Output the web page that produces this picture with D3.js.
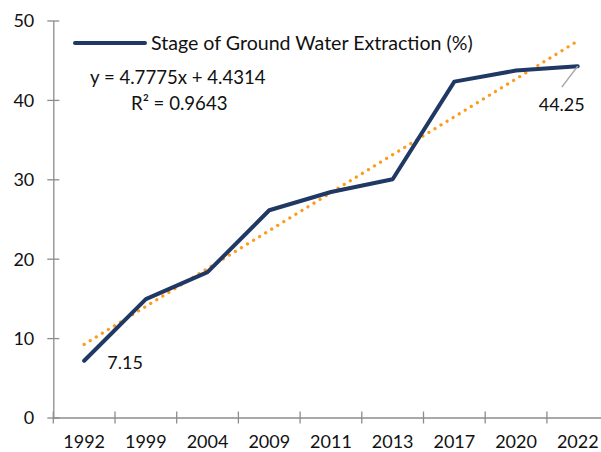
<!DOCTYPE html>
<html><head><meta charset="utf-8">
<script src="https://cdn.jsdelivr.net/npm/d3@7"></script>
<style>body{margin:0;background:#fff}svg{display:block}text{font-family:Lato,"Open Sans",sans-serif;fill:#111}</style>
</head><body>
<svg id="c" width="601" height="452"></svg>
<script>
const categories = ["1992","1999","2004","2009","2011","2013","2017","2020","2022"];
const values = [7.15, 14.9, 18.3, 26.1, 28.4, 30.0, 42.3, 43.7, 44.25];
const yTicks = [0,10,20,30,40,50];
const seriesName = "Stage of Ground Water Extraction (%)";
const trendSlope = 4.7775, trendIntercept = 4.4314;
const trendLabel = "y = 4.7775x + 4.4314";
const r2Label = "R² = 0.9643";

const svg = d3.select("#c");
const x = d3.scaleBand().domain(categories).range([53.3, 608.6]);
const y = d3.scaleLinear().domain([0,50]).range([417.5, 20.5]);
const axisColor = "#8c8c8c";
const FF = "Lato,'Open Sans',sans-serif";

// y axis
const ya = svg.append("g").attr("transform","translate(53.3,0)")
  .call(d3.axisLeft(y).tickValues(yTicks).tickSize(6).tickSizeOuter(0).tickPadding(13));
ya.select(".domain").attr("stroke",axisColor).attr("stroke-width",1.3);
ya.selectAll(".tick line").attr("stroke",axisColor).attr("stroke-width",1.3).attr("x2",6).attr("x1",-6);
ya.selectAll(".tick text").attr("font-size",18).attr("font-family",FF).attr("fill","#111").attr("dy","0.36em");

// x axis
const xa = svg.append("g").attr("transform",`translate(0,${y(0)})`)
  .call(d3.axisBottom(x).tickSize(0).tickPadding(18));
xa.select(".domain").attr("stroke",axisColor).attr("stroke-width",1.6);
xa.selectAll(".tick text").attr("font-size",18).attr("font-family",FF).attr("fill","#111");
// separator ticks at band boundaries
const bounds = categories.map(c => x(c));
svg.append("g").selectAll("line").data(bounds).join("line")
  .attr("x1",d=>d).attr("x2",d=>d).attr("y1",y(0)-6).attr("y2",y(0)+6)
  .attr("stroke",axisColor).attr("stroke-width",1.3);

const cx = c => x(c) + x.bandwidth()/2;

// trendline
const xs = [1, categories.length];
svg.append("line")
  .attr("x1", cx(categories[0])).attr("y1", y(trendSlope*xs[0]+trendIntercept))
  .attr("x2", cx(categories[categories.length-1])).attr("y2", y(trendSlope*xs[1]+trendIntercept))
  .attr("stroke","#FF9A1A").attr("stroke-width",3.2).attr("stroke-linecap","round")
  .attr("stroke-dasharray","0.1 7");

// series line
const line = d3.line().x((d,i)=>cx(categories[i])).y(d=>y(d));
svg.append("path").datum(values).attr("d",line)
  .attr("fill","none").attr("stroke","#1F3864").attr("stroke-width",4)
  .attr("stroke-linejoin","round").attr("stroke-linecap","round");

// data labels
svg.append("text").attr("x",cx(categories[0])+41).attr("y",y(values[0])+8)
  .attr("text-anchor","middle").attr("font-size",18).text(values[0].toFixed(2));
const last = categories.length-1;
svg.append("line").attr("x1",cx(categories[last])).attr("y1",y(values[last]))
  .attr("x2",cx(categories[last])-16).attr("y2",y(values[last])+21)
  .attr("stroke","#a6a6a6").attr("stroke-width",1.5);
svg.append("text").attr("x",cx(categories[last])-16).attr("y",y(values[last])+45)
  .attr("text-anchor","middle").attr("font-size",18).text(values[last].toFixed(2));

// legend
svg.append("line").attr("x1",75).attr("x2",145).attr("y1",43).attr("y2",43)
  .attr("stroke","#1F3864").attr("stroke-width",4).attr("stroke-linecap","round");
svg.append("text").attr("x",151).attr("y",50).attr("font-size",19.6).text(seriesName);

// trend equation
svg.append("text").attr("x",90).attr("y",84).attr("font-size",18.6).text(trendLabel);
svg.append("text").attr("x",131).attr("y",110).attr("font-size",18.6).text(r2Label);
</script>
</body></html>
